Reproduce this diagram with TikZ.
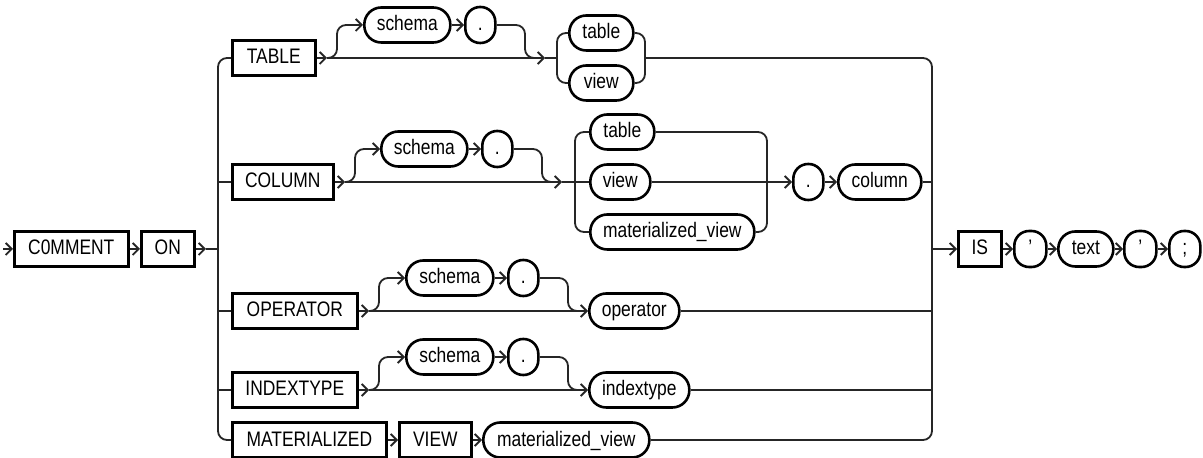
\documentclass[tikz,border=0pt]{standalone}
\usepackage{fontspec}
\setmainfont{Liberation Sans}[FakeStretch=0.83]
\usetikzlibrary{arrows.meta}

\begin{document}
\begin{tikzpicture}[x=0.5pt, y=-0.5pt]
  \tikzset{
    kw_node/.style={draw, line width=1.3pt, anchor=west, minimum height=17.5pt, inner sep=0pt, text height=7.5pt, text depth=1.5pt, font=\fontsize{10.5}{12}\selectfont},
    id_node/.style={kw_node, rounded corners=8.5pt},
    dot_node/.style={kw_node, rounded corners=7.4pt, minimum width=15pt, minimum height=18pt},
    rail/.style={line width=0.9pt, draw=black!85},
    round_rail/.style={rail, rounded corners=4.5pt},
    arr/.style={-{Straight Barb[length=3pt,width=6pt]}}
  }

  \useasboundingbox (0,0) rectangle (1203,458);

  % Entrada
  \coordinate (start) at (3,249);
  \node[kw_node, minimum width=57pt] (comment) at (13,249) {C0MMENT};
  \node[kw_node, minimum width=26.5pt] (on) at (140,249) {ON};
  \coordinate (on_tip) at (206,249);

  % Bus izquierdo y bus derecho
  \coordinate (lb_in) at (218,249);
  \coordinate (lb_col) at (218,182);
  \coordinate (lb_op) at (218,311);
  \coordinate (lb_ix) at (218,390);
  \coordinate (lb_bot) at (218,440);
  \coordinate (rb_col) at (932,182);
  \coordinate (rb_is) at (932,249);
  \coordinate (rb_op) at (932,311);
  \coordinate (rb_ix) at (932,390);
  \coordinate (rb_bot) at (932,440);

  % Palabras clave de cada rama
  \node[kw_node, minimum width=41.5pt] (table_kw) at (231,58) {TABLE};
  \node[kw_node, minimum width=50.5pt] (column_kw) at (231,182) {COLUMN};
  \node[kw_node, minimum width=62.5pt] (operator_kw) at (231,311) {OPERATOR};
  \node[kw_node, minimum width=62.5pt] (indextype_kw) at (231,390) {INDEXTYPE};
  \node[kw_node, minimum width=77pt] (materialized_kw) at (231,440) {MATERIALIZED};
  \node[kw_node, minimum width=36pt] (view_kw) at (398,440) {VIEW};
  \node[id_node, minimum width=83pt] (mview_id) at (482,440) {materialized\_view};

  % Rama TABLE
  \coordinate (t_split) at (327,58);
  \coordinate (t_join) at (525,58);
  \coordinate (t_in) at (545,58);
  \coordinate (t_bl) at (557,58);
  \coordinate (t_br) at (645,58);
  \node[id_node, minimum width=43pt] (t_schema) at (363,25) {schema};
  \node[dot_node] (t_dot) at (464,25) {.};
  \node[id_node, minimum width=32pt] (t_table) at (568,33) {table};
  \node[id_node, minimum width=32pt] (t_view) at (568,83) {view};

  % Rama COLUMN
  \coordinate (c_split) at (345,182);
  \coordinate (c_join) at (542,182);
  \coordinate (c_in) at (562,182);
  \coordinate (c_bl) at (575,182);
  \coordinate (c_br) at (767,182);
  \node[id_node, minimum width=43pt] (c_schema) at (380,149) {schema};
  \node[dot_node] (c_dot) at (481,149) {.};
  \node[id_node, minimum width=32pt] (c_table) at (589,132) {table};
  \node[id_node, minimum width=30pt] (c_view) at (589,182) {view};
  \node[id_node, minimum width=82pt] (c_mview) at (589,232) {materialized\_view};
  \node[dot_node] (c_dot2) at (792,182) {.};
  \node[id_node, minimum width=41.5pt] (c_column) at (837,182) {column};

  % Rama OPERATOR
  \coordinate (o_split) at (369,311);
  \coordinate (o_join) at (568,311);
  \node[id_node, minimum width=43.5pt] (o_schema) at (405,278) {schema};
  \node[dot_node] (o_dot) at (507,278) {.};
  \node[id_node, minimum width=45pt] (o_operator) at (588,311) {operator};

  % Rama INDEXTYPE
  \coordinate (i_split) at (369,390);
  \coordinate (i_join) at (568,390);
  \node[id_node, minimum width=43.5pt] (i_schema) at (405,357) {schema};
  \node[dot_node] (i_dot) at (507,357) {.};
  \node[id_node, minimum width=50pt] (i_indextype) at (588,390) {indextype};

  % Final: IS 'text';
  \node[kw_node, minimum width=21.5pt] (is_kw) at (957,249) {IS};
  \node[dot_node, minimum width=16pt] (q1) at (1013,249) {'};
  \node[id_node, minimum width=27.5pt] (text_id) at (1057,249) {text};
  \node[dot_node, minimum width=16pt] (q2) at (1123,249) {'};
  \node[dot_node, minimum width=15.5pt] (semi) at (1168,249) {;};

  % Conexiones de entrada
  \draw[rail, arr] (start) -- (comment.west);
  \draw[rail, arr] (comment.east) -- (on.west);
  \draw[rail, arr] (on.east) -- (on_tip);
  \draw[rail] (on_tip) -- (lb_in);

  % Bus izquierdo
  \draw[round_rail] (table_kw.west) -| (lb_bot) -- (materialized_kw.west);
  \draw[rail] (lb_col) -- (column_kw.west);
  \draw[rail] (lb_op) -- (operator_kw.west);
  \draw[rail] (lb_ix) -- (indextype_kw.west);

  % TABLE
  \draw[rail, arr] (table_kw.east) -- (t_split);
  \draw[round_rail, arr] (t_split) -- ++(10,0) |- (t_schema.west);
  \draw[rail, arr] (t_schema.east) -- (t_dot.west);
  \draw[round_rail] (t_dot.east) -| (t_join) -- ++(10,0);
  \draw[rail, arr] (t_split) -- (t_in);
  \draw[rail] (t_in) -- (t_bl);
  \draw[round_rail] (t_bl) |- (t_table.west);
  \draw[round_rail] (t_bl) |- (t_view.west);
  \draw[round_rail] (t_table.east) -| (t_br);
  \draw[round_rail] (t_view.east) -| (t_br);

  % Bus derecho
  \draw[round_rail] (t_br) -| (rb_bot) -- (mview_id.east);

  % COLUMN
  \draw[rail, arr] (column_kw.east) -- (c_split);
  \draw[round_rail, arr] (c_split) -- ++(10,0) |- (c_schema.west);
  \draw[rail, arr] (c_schema.east) -- (c_dot.west);
  \draw[round_rail] (c_dot.east) -| (c_join) -- ++(10,0);
  \draw[rail, arr] (c_split) -- (c_in);
  \draw[rail] (c_in) -- (c_view.west);
  \draw[round_rail] (c_bl) |- (c_table.west);
  \draw[round_rail] (c_bl) |- (c_mview.west);
  \draw[round_rail] (c_table.east) -| (c_br);
  \draw[round_rail] (c_mview.east) -| (c_br);
  \draw[rail, arr] (c_view.east) -- (c_dot2.west);
  \draw[rail, arr] (c_dot2.east) -- (c_column.west);
  \draw[rail] (c_column.east) -- (rb_col);

  % OPERATOR
  \draw[rail, arr] (operator_kw.east) -- (o_split);
  \draw[round_rail, arr] (o_split) -- ++(10,0) |- (o_schema.west);
  \draw[rail, arr] (o_schema.east) -- (o_dot.west);
  \draw[round_rail] (o_dot.east) -| (o_join) -- ++(10,0);
  \draw[rail, arr] (o_split) -- (o_operator.west);
  \draw[rail] (o_operator.east) -- (rb_op);

  % INDEXTYPE
  \draw[rail, arr] (indextype_kw.east) -- (i_split);
  \draw[round_rail, arr] (i_split) -- ++(10,0) |- (i_schema.west);
  \draw[rail, arr] (i_schema.east) -- (i_dot.west);
  \draw[round_rail] (i_dot.east) -| (i_join) -- ++(10,0);
  \draw[rail, arr] (i_split) -- (i_indextype.west);
  \draw[rail] (i_indextype.east) -- (rb_ix);

  % MATERIALIZED VIEW
  \draw[rail, arr] (materialized_kw.east) -- (view_kw.west);
  \draw[rail, arr] (view_kw.east) -- (mview_id.west);

  % IS 'text';
  \draw[rail, arr] (rb_is) -- (is_kw.west);
  \draw[rail, arr] (is_kw.east) -- (q1.west);
  \draw[rail, arr] (q1.east) -- (text_id.west);
  \draw[rail, arr] (text_id.east) -- (q2.west);
  \draw[rail, arr] (q2.east) -- (semi.west);
\end{tikzpicture}
\end{document}
